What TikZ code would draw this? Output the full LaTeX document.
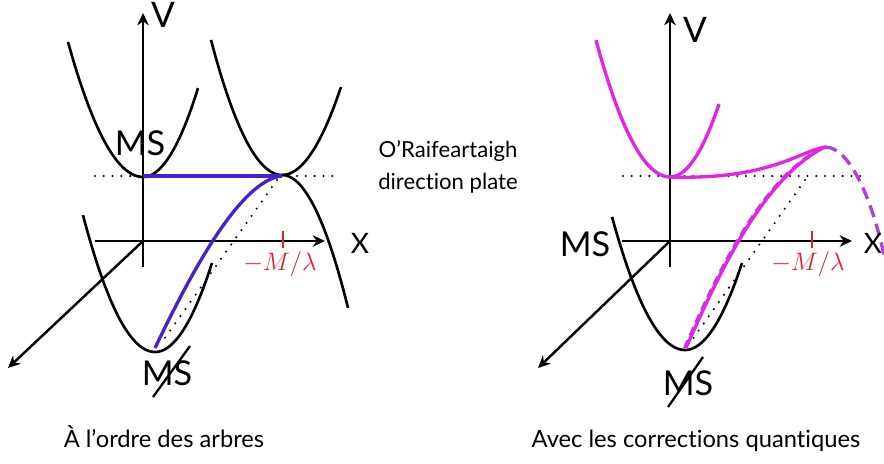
\documentclass[tikz,border=0pt]{standalone}
\usepackage{fontspec}
\setmainfont{Lato}[Ligatures=NoCommon]
\usetikzlibrary{arrows.meta}
\definecolor{purp}{HTML}{4A1FCC}
\definecolor{mag}{HTML}{E424E4}
\definecolor{vio}{HTML}{B43CE6}
\definecolor{redm}{HTML}{E0202A}
\begin{document}
\begin{tikzpicture}[x=0.02cm,y=-0.02cm,
  curve/.style={line width=1.5pt, black},
  axisline/.style={line width=1.4pt, -{Stealth[length=7pt,width=6.5pt]}},
  dotline/.style={line width=1.3pt, dash pattern=on 0pt off 5pt, line cap=round},
  tick/.style={redm, line width=1.6pt},
  big/.style={font=\fontsize{19.5}{21}\selectfont, inner sep=0pt},
  vlbl/.style={font=\fontsize{20}{22}\selectfont, inner sep=0pt},
  axlbl/.style={font=\fontsize{16}{18}\selectfont, inner sep=0pt},
  mlbl/.style={redm, font=\fontsize{14}{16}\selectfont, inner sep=0pt},
  capt/.style={font=\fontsize{13.5}{15}\selectfont, inner sep=0pt, anchor=base},
  note/.style={font=\fontsize{12.6}{18}\selectfont, inner sep=0pt, align=center}]
\useasboundingbox (0,0) rectangle (884,463);

% ---------------- left panel ----------------
\coordinate (O1) at (143,241);
\coordinate (V1) at (143,13);
\coordinate (X1) at (325,241);
\coordinate (D1) at (8,368);
\draw[dotline] (95,176) -- (340,176);
\draw[dotline] (277,180) -- (162,342);
\draw[curve] plot[domain=68:198, samples=60] (\x,{177-(\x<143 ? 0.024 : 0.0294)*(\x-143)^2});
\draw[curve] plot[domain=211:341, samples=60] (\x,{175-(\x<282 ? 0.0268 : 0.0253)*(\x-282)^2});
\draw[curve] plot[domain=282:348, samples=40] (\x,{175+0.0305*(\x-282)^2});
\draw[curve] plot[domain=83:212, samples=60] (\x,{352-(\x<155 ? 0.0264 : 0.0274)*(\x-155)^2});
\draw[axisline] (143,267) -- (V1);
\draw[axisline] (95,241) -- (X1);
\draw[axisline] (O1) -- (D1);
\draw[purp, line width=1.9pt] (143,176) -- (282,176);
\draw[purp, line width=1.9pt] (155,348) .. controls (190,275) and (240,180) .. (282,176);
\draw[tick] (283,231) -- (283,248);
\node[mlbl] (m1) at (280,264) {$-M/\lambda$};
\node[vlbl] (vl1) at (163,15) {V};
\node[axlbl] (xl1) at (360,243) {X};
\node[big] (ms1) at (140,143) {MS};
\node[big] (ms2) at (167,373) {MS};
\draw[line width=1.3pt] (153,397) -- (190,346);
\node[capt] (c1) at (164,447) {À l’ordre des arbres};

% ---------------- middle note ----------------
\node[note] (n1) at (448,167) {O’Raifeartaigh\\direction plate};

% ---------------- right panel ----------------
\coordinate (O2) at (670,241);
\coordinate (V2) at (670,13);
\coordinate (X2) at (852,241);
\coordinate (D2) at (538,368);
\draw[dotline] (623,176) -- (868,176);
\draw[dotline] (805,180) -- (692,340);
\draw[curve] plot[domain=612:742, samples=60] (\x,{350-(\x<685 ? 0.025 : 0.0268)*(\x-685)^2});
\draw[axisline] (670,267) -- (V2);
\draw[axisline] (622,241) -- (X2);
\draw[axisline] (O2) -- (D2);
\draw[mag, line width=1.9pt] plot[domain=596:719, samples=60] (\x,{177-(\x<670 ? 0.025 : 0.0304)*(\x-670)^2});
\draw[mag, line width=1.9pt] (670,177) .. controls (770,180) and (800,151) .. (825,147);
\draw[vio, line width=1.9pt, dash pattern=on 7pt off 4pt] (825,147) .. controls (850,147) and (872,200) .. (884,255);
\draw[vio, line width=1.2pt, dash pattern=on 5pt off 3pt] (684,348) .. controls (714,280) and (759,180) .. (821,148);
\draw[mag, line width=1.9pt] (686,348) .. controls (716,280) and (761,180) .. (823,148);
\draw[tick] (812,231) -- (812,248);
\node[mlbl] (m2) at (808,264) {$-M/\lambda$};
\node[vlbl] (vl2) at (695,30) {V};
\node[axlbl] (xl2) at (873,243) {X};
\node[big] (ms3) at (585,244) {MS};
\node[big] (ms4) at (688,383) {MS};
\draw[line width=1.3pt] (668,407) -- (703,357);
\node[capt] (c2) at (696,447) {Avec les corrections quantiques};
\end{tikzpicture}
\end{document}
